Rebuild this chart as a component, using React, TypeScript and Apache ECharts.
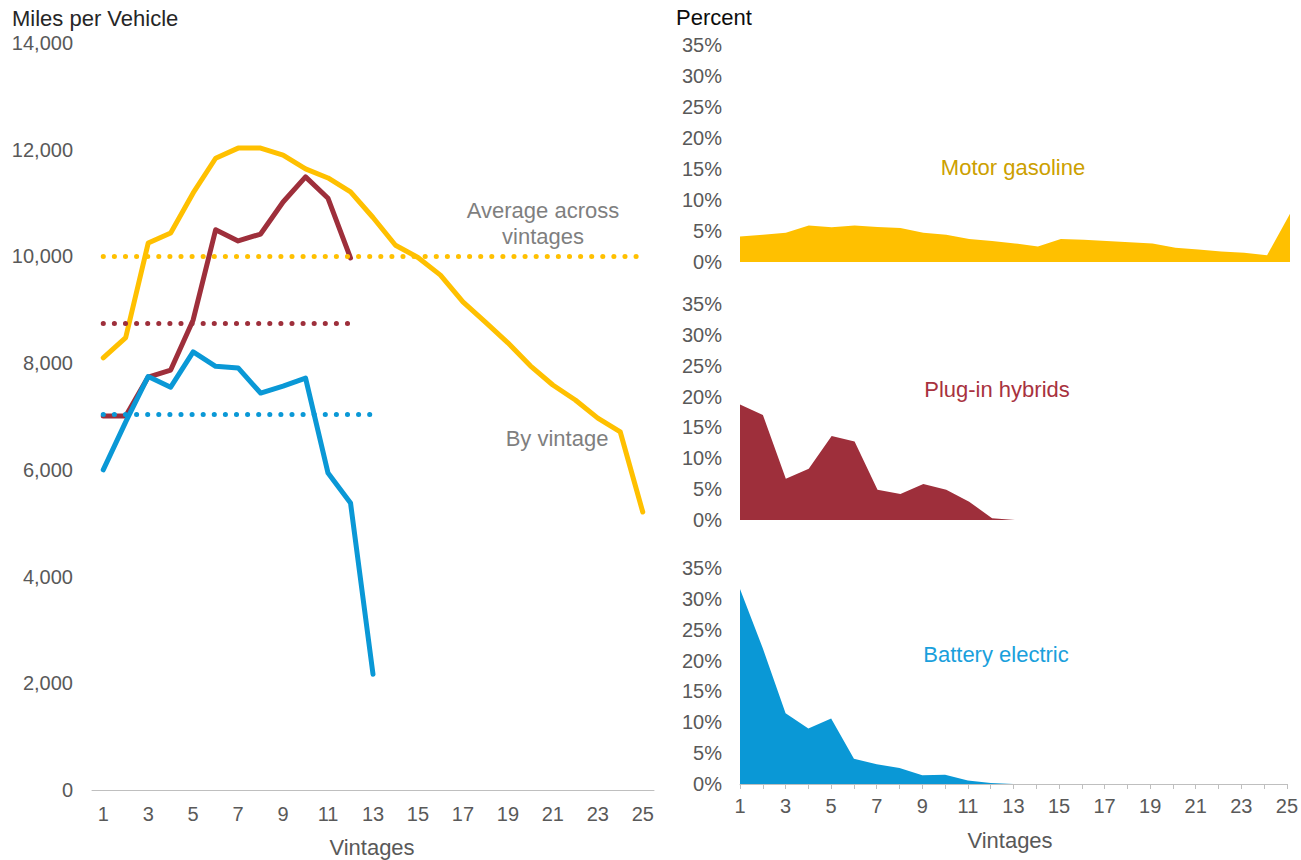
import React, { useEffect, useRef } from "react";
import * as echarts from "echarts";

const vintages = ["1","2","3","4","5","6","7","8","9","10","11","12","13","14","15","16","17","18","19","20","21","22","23","24","25"];

// Miles per vehicle, by vintage
const gasolineMiles = [8100, 8480, 10250, 10440, 11190, 11840, 12030, 12030, 11900, 11640, 11470, 11210, 10730, 10210, 9980, 9650, 9150, 8770, 8380, 7950, 7590, 7310, 6970, 6710, 5210];
const phevMiles = [7010, 7010, 7740, 7870, 8810, 10500, 10290, 10420, 11020, 11490, 11090, 9970];
const bevMiles = [6000, 6900, 7750, 7550, 8210, 7940, 7910, 7440, 7570, 7720, 5940, 5380, 2170];

// Average across vintages and the last vintage each average line reaches
const avgGasoline = 10000;
const avgPhev = 8750;
const avgBev = 7050;
const avgGasolineEnd = "25";
const avgPhevEnd = "12";
const avgBevEnd = "13";

// Share of vehicles by vintage (percent)
const gasolineShare = [4.1, 4.4, 4.7, 5.9, 5.6, 5.9, 5.65, 5.5, 4.7, 4.4, 3.7, 3.4, 3.0, 2.5, 3.7, 3.6, 3.4, 3.2, 3.0, 2.3, 2.0, 1.7, 1.5, 1.1, 7.8];
const phevShare = [18.7, 17.0, 6.7, 8.3, 13.6, 12.7, 4.9, 4.2, 5.85, 4.9, 2.95, 0.3, 0];
const bevShare = [31.6, 22.0, 11.45, 9.0, 10.6, 4.1, 3.2, 2.6, 1.4, 1.5, 0.55, 0.15, 0];

const leftTicks = [0, 2000, 4000, 6000, 8000, 10000, 12000, 14000];
const pctTicks = [0, 5, 10, 15, 20, 25, 30, 35];

const YELLOW = "#FFC000";
const RED = "#9E2F3B";
const BLUE = "#0A98D6";
const FONT = "'Liberation Sans', Arial, sans-serif";
const TICK_GREY = "#595959";
const AXIS_GREY = "#BFBFBF";

export default function App() {
  const ref = useRef<HTMLDivElement>(null);
  useEffect(() => {
    if (!ref.current) return;
    const chart = echarts.init(ref.current, undefined, { renderer: "svg" });

    const avgLine = (color: string, value: number, end: string) => ({
      silent: true,
      symbol: ["none", "none"],
      label: { show: false },
      emphasis: { disabled: true },
      lineStyle: { color, type: [0.1, 11], width: 5, cap: "round" },
      data: [[{ coord: ["1", value] }, { coord: [end, value] }]],
    });

    const pctAxis = (gi: number) => ({
      type: "value",
      gridIndex: gi,
      min: pctTicks[0],
      max: pctTicks[pctTicks.length - 1],
      interval: 5,
      axisLine: { show: false },
      axisTick: { show: false },
      splitLine: { show: false },
      axisLabel: { formatter: "{value}%", color: TICK_GREY, fontSize: 20, fontFamily: FONT, margin: 18 },
    });

    const pctXAxis = (gi: number, show: boolean) => ({
      type: "category",
      gridIndex: gi,
      data: vintages,
      boundaryGap: false,
      axisLine: { show, lineStyle: { color: AXIS_GREY, width: 1 } },
      axisTick: { show, interval: 0, length: 5, lineStyle: { color: AXIS_GREY } },
      axisLabel: { show, interval: 1, color: TICK_GREY, fontSize: 20, fontFamily: FONT, margin: 12 },
      splitLine: { show: false },
    });

    const areaSeries = (idx: number, data: number[], color: string) => ({
      type: "line",
      xAxisIndex: idx,
      yAxisIndex: idx,
      data,
      symbol: "none",
      lineStyle: { width: 0, color },
      itemStyle: { color },
      areaStyle: { color, opacity: 1 },
      silent: true,
    });

    const text = (x: number, y: number, t: string, fill: string, size = 22, align = "center") => ({
      type: "text",
      x,
      y,
      silent: true,
      style: { text: t, fill, font: `${size}px ${FONT}`, align, verticalAlign: "middle" },
    });

    chart.setOption({
      animation: false,
      backgroundColor: "#ffffff",
      grid: [
        { left: 92, top: 43, width: 562, height: 747 },
        { left: 740, top: 45, width: 550, height: 217 },
        { left: 740, top: 304, width: 550, height: 216 },
        { left: 740, top: 568, width: 550, height: 216 },
      ],
      xAxis: [
        {
          type: "category",
          gridIndex: 0,
          data: vintages,
          boundaryGap: true,
          axisLine: { lineStyle: { color: AXIS_GREY, width: 1 } },
          axisTick: { interval: 0, length: 5, alignWithLabel: false, lineStyle: { color: AXIS_GREY } },
          axisLabel: { interval: 1, color: TICK_GREY, fontSize: 20, fontFamily: FONT, margin: 14 },
          splitLine: { show: false },
        },
        pctXAxis(1, false),
        pctXAxis(2, false),
        pctXAxis(3, true),
      ],
      yAxis: [
        {
          type: "value",
          gridIndex: 0,
          min: leftTicks[0],
          max: leftTicks[leftTicks.length - 1],
          interval: 2000,
          axisLine: { show: false },
          axisTick: { show: false },
          splitLine: { show: false },
          axisLabel: {
            color: TICK_GREY,
            fontSize: 20,
            fontFamily: FONT,
            margin: 19,
            formatter: (v: number) => v.toLocaleString("en-US"),
          },
        },
        pctAxis(1),
        pctAxis(2),
        pctAxis(3),
      ],
      series: [
        {
          type: "line",
          name: "Motor gasoline",
          xAxisIndex: 0,
          yAxisIndex: 0,
          data: gasolineMiles,
          symbol: "none",
          lineStyle: { color: YELLOW, width: 5, join: "round", cap: "round" },
          itemStyle: { color: YELLOW },
          markLine: avgLine(YELLOW, avgGasoline, avgGasolineEnd),
          z: 2,
        },
        {
          type: "line",
          name: "Plug-in hybrids",
          xAxisIndex: 0,
          yAxisIndex: 0,
          data: phevMiles,
          symbol: "none",
          lineStyle: { color: RED, width: 5, join: "round", cap: "round" },
          itemStyle: { color: RED },
          markLine: avgLine(RED, avgPhev, avgPhevEnd),
          z: 3,
        },
        {
          type: "line",
          name: "Battery electric",
          xAxisIndex: 0,
          yAxisIndex: 0,
          data: bevMiles,
          symbol: "none",
          lineStyle: { color: BLUE, width: 5, join: "round", cap: "round" },
          itemStyle: { color: BLUE },
          markLine: avgLine(BLUE, avgBev, avgBevEnd),
          z: 4,
        },
        areaSeries(1, gasolineShare, YELLOW),
        areaSeries(2, phevShare, RED),
        areaSeries(3, bevShare, BLUE),
      ],
      graphic: [
        text(12, 18, "Miles per Vehicle", "#262626", 22, "left"),
        text(676, 17, "Percent", "#0d0d0d", 22, "left"),
        text(543, 210, "Average across", "#7F7F7F"),
        text(543, 236, "vintages", "#7F7F7F"),
        text(557, 438, "By vintage", "#7F7F7F"),
        text(372, 847, "Vintages", TICK_GREY),
        text(1010, 840, "Vintages", TICK_GREY),
        text(1013, 167, "Motor gasoline", "#CCA000"),
        text(997, 389, "Plug-in hybrids", "#A8323E"),
        text(996, 654, "Battery electric", "#1AA0DC"),
      ],
    });
    return () => chart.dispose();
  }, []);
  return (
    <div
      ref={ref}
      style={{ position: "absolute", left: 0, top: 0, width: 1301, height: 860, background: "#fff" }}
    />
  );
}
